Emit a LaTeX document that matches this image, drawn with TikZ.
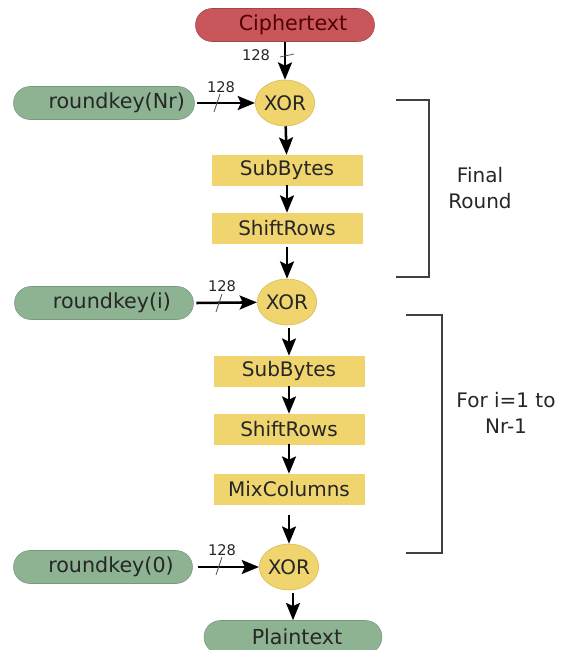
\documentclass[tikz,border=0pt]{standalone}
\usepackage{fontspec}
\setmainfont{DejaVu Sans}
\usetikzlibrary{arrows.meta,shapes.geometric}
\definecolor{cred}{HTML}{C9565A}
\definecolor{cgreen}{HTML}{8DB393}
\definecolor{cyel}{HTML}{F0D46E}
\definecolor{cyeld}{HTML}{D9B84E}
\tikzset{
  pill/.style={rounded corners=16.5*0.75pt, minimum height=33*0.75pt, inner sep=0pt, font=\fontsize{15.5}{17}\selectfont},
  redpill/.style={pill, fill=cred, draw=cred!80!black, text=black!60!red!80!black},
  greenpill/.style={pill, fill=cgreen, draw=cgreen!85!black, text=black!85},
  xorn/.style={ellipse, fill=cyel, draw=cyeld, minimum width=57*0.75pt, minimum height=46*0.75pt, inner sep=0pt, font=\fontsize{15}{17}\selectfont, text=black!85},
  opbox/.style={rectangle, fill=cyel, draw=cyel, minimum width=150*0.75pt, minimum height=30*0.75pt, inner sep=0pt, font=\fontsize{15}{17}\selectfont, text=black!85},
  flow/.style={-{Stealth[length=13pt,width=10.5pt,inset=2.5pt]}, line width=1.9pt, black},
  tick/.style={gray!70!black, line width=0.6pt},
  lbl/.style={font=\fontsize{11}{13}\selectfont, text=black!85},
  brk/.style={line width=1.3pt, black!75},
  brtext/.style={font=\fontsize{15}{19}\selectfont, align=center, text=black!85}
}
\begin{document}
\begin{tikzpicture}[x=0.75pt,y=-0.75pt]
\useasboundingbox (0,0) rectangle (566,650);
% nodes
\node[redpill, minimum width=179*0.75pt] (ct) at (285,25) {\hspace*{12pt}Ciphertext};
\node[xorn] (x1) at (285,103) {XOR};
\node[greenpill, minimum width=181*0.75pt] (k1) at (104,103) {\hspace*{19pt}roundkey(Nr)};
\node[opbox] (sb1) at (287,170) {SubBytes};
\node[opbox] (sr1) at (287,228) {ShiftRows};
\node[xorn] (x2) at (287,302) {XOR};
\node[greenpill, minimum width=179*0.75pt] (k2) at (104,303) {\hspace*{12pt}roundkey(i)};
\node[opbox] (sb2) at (289,371) {SubBytes};
\node[opbox] (sr2) at (289,429) {ShiftRows};
\node[opbox] (mc) at (289,489) {MixColumns};
\node[xorn] (x3) at (289,567) {XOR};
\node[greenpill, minimum width=179*0.75pt] (k3) at (103,567) {\hspace*{12pt}roundkey(0)};
\node[greenpill, minimum width=178*0.75pt] (pt) at (293,637) {\hspace*{6pt}Plaintext};
% connectors
\draw[flow] (ct) -- (x1);
\draw[flow] ([xshift=2pt]k1.east) -- (x1);
\draw[flow] (x1) -- (sb1);
\draw[flow] (sb1) -- (sr1);
\draw[flow] ([yshift=-3pt]sr1.south -| x2) -- (x2);
\draw[flow] ([xshift=2pt]k2.east) -- (x2);
\draw[flow] ([yshift=-2pt]x2.south -| sb2) -- (sb2);
\draw[flow] (sb2) -- (sr2);
\draw[flow] (sr2) -- (mc);
\draw[flow] ([yshift=-8pt]mc.south) -- (x3);
\draw[flow] ([xshift=4pt]k3.east) -- (x3);
\draw[flow] ([yshift=-2pt]x3.south -| pt) -- (pt);
% bit-width ticks and labels
\node[lbl] (l0) at (256,55) {128};
\draw[tick] (280,57) -- (294,54);
\node[lbl] (l1) at (221,87) {128};
\draw[tick] (214,112) -- (220,94);
\node[lbl] (l2) at (222,286) {128};
\draw[tick] (216,312) -- (222,294);
\node[lbl] (l3) at (222,550) {128};
\draw[tick] (216,575) -- (222,557);
% brackets
\coordinate (b1a) at (396,100);
\coordinate (b1b) at (429,100);
\coordinate (b1c) at (429,277);
\coordinate (b1d) at (396,277);
\draw[brk] (b1a) -- (b1b) -- (b1c) -- (b1d);
\node[brtext] (t1) at (480,188) {Final\\Round};
\coordinate (b2a) at (406,315);
\coordinate (b2b) at (442,315);
\coordinate (b2c) at (442,553);
\coordinate (b2d) at (406,553);
\draw[brk] (b2a) -- (b2b) -- (b2c) -- (b2d);
\node[brtext] (t2) at (506,413) {For i=1 to\\Nr-1};
\end{tikzpicture}
\end{document}
